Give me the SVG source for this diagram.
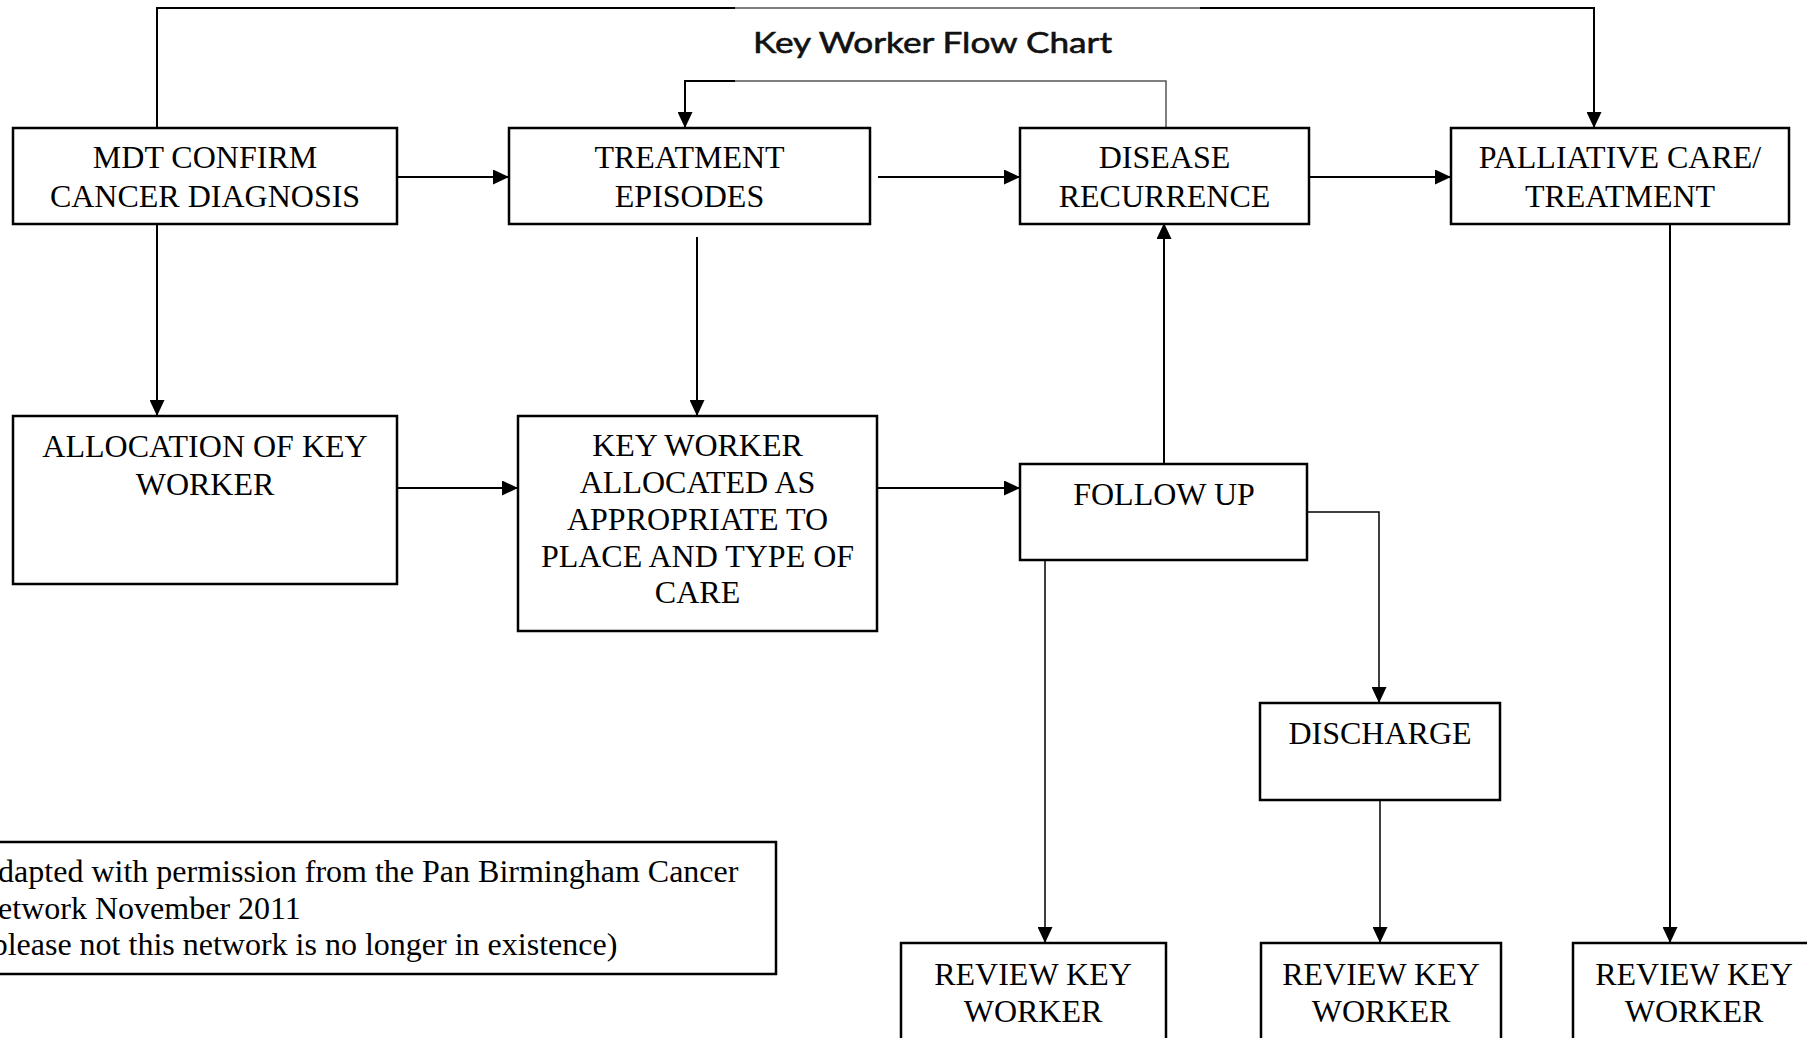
<svg xmlns="http://www.w3.org/2000/svg" width="1807" height="1038" viewBox="0 0 1807 1038">
<style>
.box{fill:#fff;stroke:#000;stroke-width:2.5}
.lbl{font-family:"Liberation Serif","Times New Roman",serif;font-size:32px;fill:#000;text-anchor:middle}
.note{font-family:"Liberation Serif","Times New Roman",serif;font-size:32px;fill:#000}
.c{fill:none;stroke:#000;stroke-width:2}
.t{fill:none;stroke:#000;stroke-width:1.5}
.g{fill:none;stroke:#555;stroke-width:1.5}
.title{font-family:Lato,"Open Sans",sans-serif;font-weight:normal;font-size:29px;fill:#111;stroke:#111;stroke-width:0.6}
</style>
<defs>
<marker id="ah" markerUnits="userSpaceOnUse" markerWidth="16" markerHeight="15" refX="16" refY="7.5" orient="auto">
<path d="M0,0 L16,7.5 L0,15 z" fill="#000"/>
</marker>
</defs>
<rect width="1807" height="1038" fill="#fff"/>
<text class="title" x="753" y="53" textLength="359" lengthAdjust="spacingAndGlyphs">Key Worker Flow Chart</text>
<g id="connectors">
<path class="c" d="M157,128 V8 H735"/>
<path class="g" d="M735,8 H1200"/>
<path class="c" d="M1200,8 H1594 V128" marker-end="url(#ah)"/>
<path class="g" d="M1166,128 V81 H735"/>
<path class="c" d="M735,81 H685 V128" marker-end="url(#ah)"/>
<path class="c" d="M397,177 H509" marker-end="url(#ah)"/>
<path class="c" d="M878,177 H1020" marker-end="url(#ah)"/>
<path class="c" d="M1310,177 H1451" marker-end="url(#ah)"/>
<path class="c" d="M157,224 V416" marker-end="url(#ah)"/>
<path class="c" d="M697,237 V416" marker-end="url(#ah)"/>
<path class="c" d="M397,488 H518" marker-end="url(#ah)"/>
<path class="c" d="M877,488 H1020" marker-end="url(#ah)"/>
<path class="c" d="M1164,464 V223" marker-end="url(#ah)"/>
<path class="t" d="M1307,512 H1379 V703" marker-end="url(#ah)"/>
<path class="t" d="M1045,560 V943" marker-end="url(#ah)"/>
<path class="t" d="M1380,800 V943" marker-end="url(#ah)"/>
<path class="c" d="M1670,223 V943" marker-end="url(#ah)"/>
</g>
<g id="mdt">
<rect class="box" x="13" y="128" width="384" height="96"/>
<text class="lbl" x="205" y="168">MDT CONFIRM</text>
<text class="lbl" x="205" y="207">CANCER DIAGNOSIS</text>
</g>
<g id="treatment">
<rect class="box" x="509" y="128" width="361" height="96"/>
<text class="lbl" x="689.5" y="168">TREATMENT</text>
<text class="lbl" x="689.5" y="207">EPISODES</text>
</g>
<g id="disease">
<rect class="box" x="1020" y="128" width="289" height="96"/>
<text class="lbl" x="1164.5" y="168">DISEASE</text>
<text class="lbl" x="1164.5" y="207">RECURRENCE</text>
</g>
<g id="palliative">
<rect class="box" x="1451" y="128" width="338" height="96"/>
<text class="lbl" x="1620" y="168">PALLIATIVE CARE/</text>
<text class="lbl" x="1620" y="207">TREATMENT</text>
</g>
<g id="allocation">
<rect class="box" x="13" y="416" width="384" height="168"/>
<text class="lbl" x="205" y="457">ALLOCATION OF KEY</text>
<text class="lbl" x="205" y="495">WORKER</text>
</g>
<g id="keyworker">
<rect class="box" x="518" y="416" width="359" height="215"/>
<text class="lbl" x="697.5" y="456">KEY WORKER</text>
<text class="lbl" x="697.5" y="493">ALLOCATED AS</text>
<text class="lbl" x="697.5" y="530">APPROPRIATE TO</text>
<text class="lbl" x="697.5" y="567">PLACE AND TYPE OF</text>
<text class="lbl" x="697.5" y="603">CARE</text>
</g>
<g id="followup">
<rect class="box" x="1020" y="464" width="287" height="96"/>
<text class="lbl" x="1164" y="505">FOLLOW UP</text>
</g>
<g id="discharge">
<rect class="box" x="1260" y="703" width="240" height="97"/>
<text class="lbl" x="1380" y="744">DISCHARGE</text>
</g>
<g id="review1">
<rect class="box" x="901" y="943" width="265" height="110"/>
<text class="lbl" x="1033" y="985">REVIEW KEY</text>
<text class="lbl" x="1033" y="1022">WORKER</text>
</g>
<g id="review2">
<rect class="box" x="1261" y="943" width="240" height="110"/>
<text class="lbl" x="1381" y="985">REVIEW KEY</text>
<text class="lbl" x="1381" y="1022">WORKER</text>
</g>
<g id="review3">
<rect class="box" x="1573" y="943" width="242" height="110"/>
<text class="lbl" x="1694" y="985">REVIEW KEY</text>
<text class="lbl" x="1694" y="1022">WORKER</text>
</g>
<g id="note">
<rect class="box" x="-30" y="842" width="806" height="132"/>
<text class="note" x="-25" y="882">Adapted with permission from the Pan Birmingham Cancer</text>
<text class="note" x="-25" y="919">Network November 2011</text>
<text class="note" x="-19" y="955">(please not this network is no longer in existence)</text>
</g>
</svg>
